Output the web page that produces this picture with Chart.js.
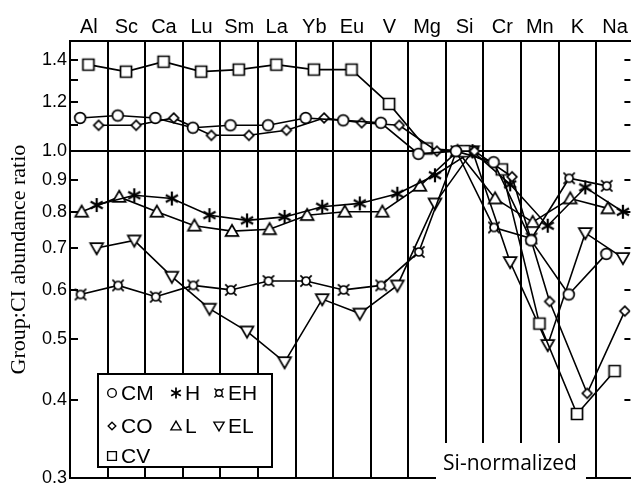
<!DOCTYPE html>
<html><head><meta charset="utf-8">
<script src="https://cdn.jsdelivr.net/npm/chart.js@4/dist/chart.umd.min.js"></script>
<style>html,body{margin:0;padding:0;background:#fff;}#wrap{position:relative;width:638px;height:492px;}
.fprobe{position:absolute;left:-9999px;top:0;}</style>
</head><body>
<span class="fprobe" style="font-family:'Liberation Sans'">Al Sc 1.4</span>
<span class="fprobe" style="font-family:'Liberation Serif'">Group</span>
<span class="fprobe" style="font-family:'Open Sans'">Si-normalized</span>
<div id="wrap"><canvas id="c" width="638" height="492"></canvas></div>
<script>
// ---- data ----
const categories = ['Al','Sc','Ca','Lu','Sm','La','Yb','Eu','V','Mg','Si','Cr','Mn','K','Na'];
const seriesNames = ['CM','CO','CV','H','L','EH','EL'];
const cm = [1.13, 1.14, 1.13, 1.09, 1.10, 1.10, 1.13, 1.12, 1.11, 0.99, 1.00, 0.96, 0.72, 0.59, 0.685];
const co = [1.10, 1.10, 1.13, 1.06, 1.06, 1.08, 1.13, 1.11, 1.10, 1.00, 1.00, 0.91, 0.575, 0.41, 0.555];
const cv = [1.375, 1.34, 1.39, 1.34, 1.35, 1.375, 1.35, 1.35, 1.19, 1.01, 1.00, 0.935, 0.53, 0.38, 0.445];
const h  = [0.82, 0.85, 0.84, 0.79, 0.775, 0.785, 0.815, 0.825, 0.855, 0.915, 1.00, 0.885, 0.76, 0.875, 0.80];
const l  = [0.80, 0.845, 0.80, 0.76, 0.745, 0.75, 0.79, 0.80, 0.80, 0.88, 1.00, 0.84, 0.77, 0.84, 0.81];
const eh = [0.59, 0.61, 0.585, 0.61, 0.60, 0.62, 0.62, 0.60, 0.61, 0.69, 1.00, 0.755, 0.725, 0.905, 0.88];
const el = [0.70, 0.72, 0.63, 0.56, 0.515, 0.46, 0.58, 0.55, 0.61, 0.825, 1.00, 0.665, 0.49, 0.74, 0.675];
const yTickValues = [0.3, 0.4, 0.5, 0.6, 0.7, 0.8, 0.9, 1.0, 1.2, 1.4];
const yMinorValues = [1.1, 1.3];
const yTitle = 'Group:CI abundance ratio';
const noteText = 'Si-normalized';

// ---- styling (offsets within a column, marker kinds, legend grid) ----
const seriesValues = {CM: cm, CO: co, CV: cv, H: h, L: l, EH: eh, EL: el};
const xOffset = {CM: -0.23, CO: 0.26, CV: -0.01, H: 0.21, L: -0.19, EH: -0.22, EL: 0.21};
const markerKind = {CM: 'circle', CO: 'diamond', CV: 'square', H: 'asterisk', L: 'triUp', EH: 'eh', EL: 'triDown'};
const legendLayout = {CM: [0, 0], H: [1, 0], EH: [2, 0], CO: [0, 1], L: [1, 1], EL: [2, 1], CV: [0, 2]};
const SANS = "'Liberation Sans', Arial, sans-serif";
const SERIF = "'Liberation Serif', 'Times New Roman', serif";
const NOTE = "'Open Sans', sans-serif";

function makeMarker(kind, s) {
  const size = 22;
  const c = document.createElement('canvas');
  c.width = size; c.height = size;
  const g = c.getContext('2d');
  g.translate(size / 2, size / 2);
  g.scale(s, s);
  g.lineWidth = 1.7; g.strokeStyle = '#000'; g.fillStyle = '#fff';
  g.beginPath();
  switch (kind) {
    case 'circle': g.arc(0, 0, 5.4, 0, 2 * Math.PI); g.fill(); g.stroke(); break;
    case 'square': g.rect(-5.5, -5.5, 11, 11); g.fill(); g.stroke(); break;
    case 'diamond': g.moveTo(0, -4.8); g.lineTo(4.8, 0); g.lineTo(0, 4.8); g.lineTo(-4.8, 0); g.closePath(); g.fill(); g.stroke(); break;
    case 'triUp': g.moveTo(0, -6.2); g.lineTo(6.4, 4.8); g.lineTo(-6.4, 4.8); g.closePath(); g.fill(); g.stroke(); break;
    case 'triDown': g.moveTo(0, 6.2); g.lineTo(6.4, -4.8); g.lineTo(-6.4, -4.8); g.closePath(); g.fill(); g.stroke(); break;
    case 'asterisk':
      g.lineWidth = 2.2;
      [90, 30, 150].forEach(a => { const r = a * Math.PI / 180; g.moveTo(-7 * Math.cos(r), -7 * Math.sin(r)); g.lineTo(7 * Math.cos(r), 7 * Math.sin(r)); });
      g.stroke(); break;
    case 'eh':
      g.arc(0, 0, 4, 0, 2 * Math.PI); g.fill(); g.stroke();
      g.beginPath();
      [45, 135, 225, 315].forEach(a => { const r = a * Math.PI / 180; g.moveTo(4 * Math.cos(r), 4 * Math.sin(r)); g.lineTo(8 * Math.cos(r), 8 * Math.sin(r)); });
      g.stroke(); break;
  }
  return c;
}

function build() {
  const plotMarkers = {}, legendMarkers = {};
  seriesNames.forEach(n => { plotMarkers[n] = makeMarker(markerKind[n], 1); legendMarkers[n] = makeMarker(markerKind[n], 0.8); });

  const datasets = seriesNames.map(n => ({
    label: n,
    data: seriesValues[n].map((v, i) => ({x: i + xOffset[n], y: v})),
    borderColor: '#000', borderWidth: 1.6, backgroundColor: '#fff',
    pointStyle: plotMarkers[n], pointRadius: 6, tension: 0, fill: false,
    xAxisID: 'x', yAxisID: 'y'
  }));

  const X_MIN = -0.5, X_MAX = 14.41;

  const decor = {
    id: 'decor',
    afterDatasetsDraw(chart) {
      const ctx = chart.ctx, ys = chart.scales.y, a = chart.chartArea;
      ctx.save();
      // Si-normalized note box
      ctx.fillStyle = '#fff';
      ctx.fillRect(436, 443, 150, 39);
      ctx.fillStyle = '#000';
      ctx.font = '21px ' + NOTE;
      ctx.textAlign = 'center'; ctx.textBaseline = 'middle';
      ctx.fillText(noteText, 510, 464);
      // legend
      ctx.fillStyle = '#fff';
      ctx.fillRect(98, 374, 174, 93);
      ctx.strokeStyle = '#000'; ctx.lineWidth = 2;
      ctx.strokeRect(98, 374, 174, 93);
      const colX = [112, 176, 219], rowY = [393, 426, 456];
      ctx.font = '21px ' + SANS;
      ctx.textAlign = 'left'; ctx.textBaseline = 'middle'; ctx.fillStyle = '#000';
      chart.data.datasets.forEach(ds => {
        const [c, r] = legendLayout[ds.label];
        const m = legendMarkers[ds.label];
        ctx.drawImage(m, colX[c] - m.width / 2, rowY[r] - m.height / 2);
        ctx.fillText(ds.label, colX[c] + 9, rowY[r] + 1);
      });
      // inner tick marks left & right
      ctx.strokeStyle = '#000'; ctx.lineWidth = 2;
      ctx.beginPath();
      [...yTickValues, ...yMinorValues].forEach(v => {
        if (v === 1.0 || v === 0.3) return;
        const y = Math.round(ys.getPixelForValue(v));
        ctx.moveTo(a.left, y); ctx.lineTo(a.left + 8, y);
        ctx.moveTo(a.right - 6, y); ctx.lineTo(a.right, y);
      });
      ctx.stroke();
      ctx.restore();
    }
  };

  new Chart(document.getElementById('c'), {
    type: 'line',
    data: {datasets},
    options: {
      responsive: false, animation: false, devicePixelRatio: 1,
      layout: {padding: {left: 0, right: 0, top: 0, bottom: 5}},
      plugins: {legend: {display: false}, tooltip: {enabled: false}},
      scales: {
        x: {
          type: 'linear', position: 'top', min: X_MIN, max: X_MAX,
          afterBuildTicks: s => { s.ticks = categories.map((_, i) => ({value: i})); },
          afterFit: s => { s.height = 41; },
          ticks: {callback: v => categories[v] ?? '', font: {family: SANS, size: 20}, color: '#000', padding: 2, autoSkip: false, maxRotation: 0, minRotation: 0},
          grid: {display: false, drawTicks: false},
          border: {display: true, color: '#000', width: 2}
        },
        xg: {
          type: 'linear', position: 'bottom', min: X_MIN, max: X_MAX,
          afterBuildTicks: s => { s.ticks = categories.slice(1).map((_, i) => ({value: i + 0.5})); },
          afterFit: s => { s.height = 0; },
          ticks: {display: false},
          grid: {color: '#000', lineWidth: 2, drawTicks: false},
          border: {display: true, color: '#000', width: 2}
        },
        y: {
          type: 'logarithmic', min: 0.3, max: 1.5,
          afterBuildTicks: s => { s.ticks = [...yTickValues, ...yMinorValues].sort((p, q) => p - q).map(v => ({value: v})); },
          afterFit: s => { s.width = 70; },
          ticks: {callback: v => yTickValues.includes(v) ? v.toFixed(1) : '', font: {family: SANS, size: 18}, color: '#000', padding: 3, autoSkip: false},
          grid: {drawTicks: false, lineWidth: 2, color: c => (c.tick && Math.abs(c.tick.value - 1) < 1e-9) ? '#000' : 'rgba(0,0,0,0)'},
          border: {display: true, color: '#000', width: 2},
          title: {display: true, text: yTitle, font: {family: SERIF, size: 22}, color: '#000', padding: {top: 6, bottom: 0}}
        }
      }
    },
    plugins: [decor]
  });
}

const fontLoads = ['20px "Liberation Sans"', '18px "Liberation Sans"', '22px "Liberation Serif"', '21px "Open Sans"']
  .map(f => document.fonts.load(f).catch(() => null));
Promise.all(fontLoads).then(() => document.fonts.ready).then(build, build);
</script></body></html>
